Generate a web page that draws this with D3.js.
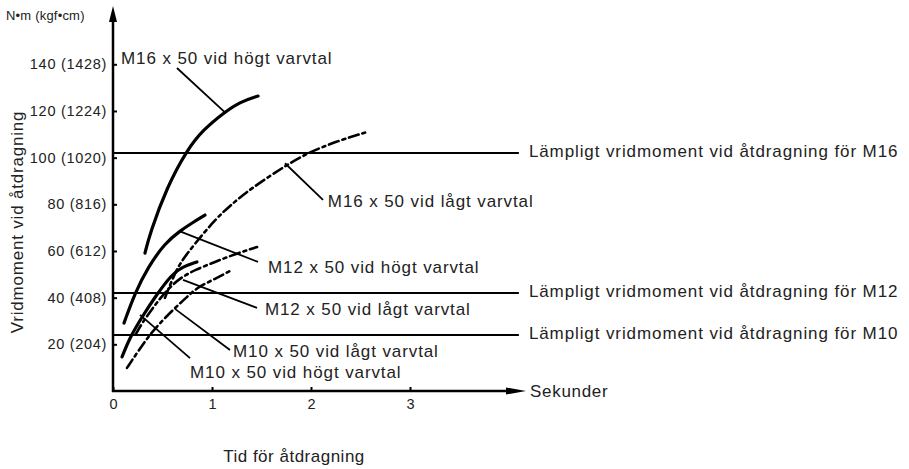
<!DOCTYPE html>
<html><head><meta charset="utf-8">
<script src="https://cdn.jsdelivr.net/npm/d3@7"></script>
<style>
html,body{margin:0;padding:0;background:#fff;}
text{font-family:"Liberation Sans",Arial,sans-serif;fill:#222;}
</style></head>
<body><svg id="c" width="909" height="469"></svg>
<script>
// ---- data ----
const xTicks = [0, 1, 2, 3];
const yTicks = [20, 40, 60, 80, 100, 120, 140];
const yTickLabels = ["20 (204)", "40 (408)", "60 (612)", "80 (816)", "100 (1020)", "120 (1224)", "140 (1428)"];

const m16HighX = [0.323, 0.374, 0.545, 0.747, 0.909, 1.131, 1.283, 1.465];
const m16HighY = [59.1, 67.7, 87.4, 103.3, 111.9, 119.6, 123.9, 126.4];

const m16LowX = [0.525, 0.596, 0.677, 0.808, 1.030, 1.212, 1.384, 1.758, 1.960, 2.242, 2.566];
const m16LowY = [39.9, 47.6, 54.9, 62.1, 73.5, 80.5, 86.5, 97.0, 101.8, 106.8, 111.0];

const m12HighX = [0.111, 0.222, 0.354, 0.525, 0.677, 0.798, 0.929];
const m12HighY = [29.1, 42.0, 53.1, 63.4, 68.6, 72.0, 75.4];

const m12LowX = [0.232, 0.293, 0.424, 0.545, 0.677, 0.828, 1.030, 1.232, 1.455];
const m12LowY = [24.5, 29.1, 36.9, 43.3, 48.4, 51.9, 55.3, 58.7, 61.7];

const m10HighX = [0.091, 0.172, 0.293, 0.424, 0.596, 0.697, 0.848];
const m10HighY = [14.6, 23.1, 31.7, 40.3, 50.1, 53.1, 55.3];

const m10LowX = [0.141, 0.242, 0.354, 0.455, 0.626, 0.747, 0.859, 1.030, 1.202];
const m10LowY = [9.9, 16.3, 23.1, 28.3, 35.6, 40.3, 44.6, 48.0, 51.9];

const seriesNames = ["M16 x 50 vid högt varvtal", "M16 x 50 vid lågt varvtal",
  "M12 x 50 vid högt varvtal", "M12 x 50 vid lågt varvtal",
  "M10 x 50 vid högt varvtal", "M10 x 50 vid lågt varvtal"];

// recommended torque reference lines
const refValues = [102, 42, 24];
const refLabels = ["Lämpligt vridmoment vid åtdragning för M16",
  "Lämpligt vridmoment vid åtdragning för M12",
  "Lämpligt vridmoment vid åtdragning för M10"];

// annotation leaders: curve point -> label point (data units)
const leaderFromX = [1.131, 1.737, 0.677, 0.707, 0.273, 0.626];
const leaderFromY = [119.4, 97.6, 68.4, 47.6, 32.6, 35.2];
const leaderToX   = [0.646, 2.121, 1.465, 1.455, 0.778, 1.182];
const leaderToY   = [138.4, 81.9, 55.3, 35.6, 14.1, 17.6];
const labelX      = [0.081, 2.17, 1.566, 1.535, 0.778, 1.212];
const labelY      = [142.0, 80.6, 52.7, 34.3, 7.7, 16.7];

const yUnit = "N•m (kgf•cm)";
const yTitle = "Vridmoment vid åtdragning";
const xUnit = "Sekunder";
const xTitle = "Tid för åtdragning";

// ---- drawing ----
const svg = d3.select("#c");
const x = d3.scaleLinear().domain([0, 4]).range([113, 509]);
const y = d3.scaleLinear().domain([0, 140]).range([391, 64.3]);

const series = [
  {xs: m16HighX, ys: m16HighY, dash: null},
  {xs: m16LowX, ys: m16LowY, dash: "10,4,3,4"},
  {xs: m12HighX, ys: m12HighY, dash: null},
  {xs: m12LowX, ys: m12LowY, dash: "10,4,3,4"},
  {xs: m10HighX, ys: m10HighY, dash: null},
  {xs: m10LowX, ys: m10LowY, dash: "10,4,3,4"}
];

const labelFont = 17, labelSpacing = 0.9;

// reference lines
refValues.forEach((v, i) => {
  svg.append("line").attr("x1", x(0)).attr("x2", x(4.1))
    .attr("y1", y(v)).attr("y2", y(v))
    .attr("stroke", "#000").attr("stroke-width", 2);
  svg.append("text").attr("x", x(4.1) + 10).attr("y", y(v))
    .attr("dominant-baseline", "middle").attr("font-size", labelFont)
    .attr("letter-spacing", labelSpacing)
    .text(refLabels[i]);
});

// curves
const line = d3.line().x(d => x(d[0])).y(d => y(d[1])).curve(d3.curveBasis);
series.forEach(s => {
  const pts = s.xs.map((v, i) => [v, s.ys[i]]);
  svg.append("path").attr("d", line(pts)).attr("fill", "none")
    .attr("stroke", "#000").attr("stroke-width", s.dash ? 2.6 : 3.2)
    .attr("stroke-linecap", "round")
    .attr("stroke-dasharray", s.dash);
});

// leaders + labels
seriesNames.forEach((name, i) => {
  svg.append("line").attr("x1", x(leaderFromX[i])).attr("y1", y(leaderFromY[i]))
    .attr("x2", x(leaderToX[i])).attr("y2", y(leaderToY[i]))
    .attr("stroke", "#000").attr("stroke-width", 1.8);
  svg.append("text").attr("x", x(labelX[i])).attr("y", y(labelY[i]))
    .attr("dominant-baseline", "middle").attr("font-size", labelFont)
    .attr("letter-spacing", labelSpacing)
    .text(name);
});

// axes
const yAxis = d3.axisLeft(y).tickValues(yTicks).tickSize(-4).tickPadding(6)
  .tickFormat((d, i) => yTickLabels[i]);
const gy = svg.append("g").attr("transform", `translate(${x(0)},0)`).call(yAxis);
gy.select(".domain").remove();
gy.selectAll(".tick line").attr("stroke", "#000").attr("stroke-width", 2);
gy.selectAll(".tick text").attr("font-size", 14.5).attr("fill", "#222")
  .attr("letter-spacing", 0.7)
  .attr("font-family", "Liberation Sans, Arial, sans-serif");

const xAxis = d3.axisBottom(x).tickValues(xTicks).tickSize(-4).tickPadding(8).tickFormat(d3.format("d"));
const gx = svg.append("g").attr("transform", `translate(0,${y(0)})`).call(xAxis);
gx.select(".domain").remove();
gx.selectAll(".tick line").attr("stroke", "#000").attr("stroke-width", 2);
gx.selectAll(".tick text").attr("font-size", 14.5).attr("fill", "#222")
  .attr("font-family", "Liberation Sans, Arial, sans-serif");

// axis lines with arrows
svg.append("line").attr("x1", x(0)).attr("y1", y(0) + 1).attr("x2", x(0)).attr("y2", 16)
  .attr("stroke", "#000").attr("stroke-width", 2.5);
svg.append("path").attr("d", `M${x(0) - 4},22 L${x(0)},6 L${x(0) + 4},22 Z`).attr("fill", "#000");
svg.append("line").attr("x1", x(0) - 1).attr("y1", y(0)).attr("x2", 512).attr("y2", y(0))
  .attr("stroke", "#000").attr("stroke-width", 2.5);
svg.append("path").attr("d", `M506,${y(0) - 3.5} L526,${y(0)} L506,${y(0) + 3.5} Z`).attr("fill", "#000");

svg.append("text").attr("x", 530).attr("y", y(0) + 2).attr("dominant-baseline", "middle")
  .attr("font-size", 17).attr("letter-spacing", 0.7).text(xUnit);
svg.append("text").attr("x", 6).attr("y", 17).attr("dominant-baseline", "middle")
  .attr("font-size", 13).attr("letter-spacing", 0.2).text(yUnit);
svg.append("text").attr("transform", "translate(19,222) rotate(-90)")
  .attr("text-anchor", "middle").attr("dominant-baseline", "middle")
  .attr("font-size", 17).attr("letter-spacing", 0.8).text(yTitle);
svg.append("text").attr("x", 294).attr("y", 458).attr("text-anchor", "middle")
  .attr("dominant-baseline", "middle").attr("font-size", 17)
  .attr("letter-spacing", 0.5).text(xTitle);
</script></body></html>
